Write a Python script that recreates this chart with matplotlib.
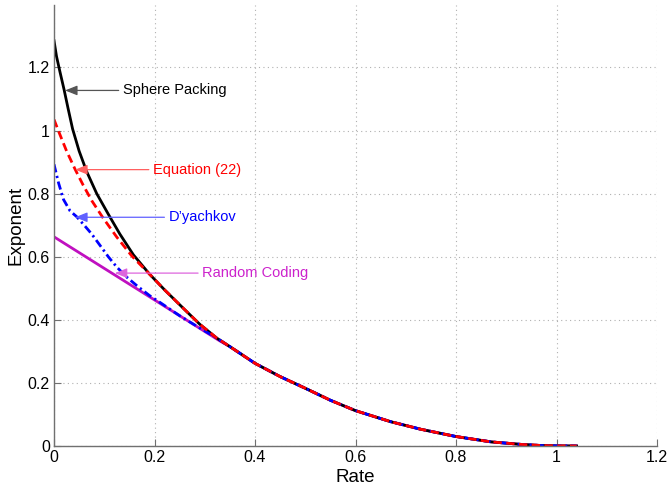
import matplotlib
matplotlib.use("Agg")
import matplotlib.pyplot as plt

plt.rcParams['font.family'] = ['Liberation Sans', 'DejaVu Sans']

# ── data ───────────────────────────────────────────────────────────────────────

# shared high-rate tail (all bounds coincide here)
TAIL_R = [0.35, 0.40, 0.45, 0.50, 0.55, 0.60, 0.67, 0.73, 0.80, 0.87, 0.93, 0.97, 1.00, 1.04]
TAIL_E = [0.315, 0.262, 0.220, 0.183, 0.145, 0.112, 0.077, 0.053, 0.030, 0.013, 0.005, 0.0015, 0.0003, 0.0]

# sphere packing (low-rate part)
SP_R = [0, 0.005, 0.012, 0.02, 0.028, 0.037, 0.05, 0.065, 0.085, 0.108, 0.131, 0.158,
        0.19, 0.22, 0.257, 0.29, 0.324]
SP_E = [1.285, 1.235, 1.185, 1.13, 1.07, 1.005, 0.935, 0.870, 0.80, 0.735, 0.672, 0.606,
        0.545, 0.495, 0.437, 0.386, 0.342]

# equation (22)
EQ_R = [0, 0.009, 0.025, 0.042, 0.058, 0.075, 0.098, 0.125, 0.155, 0.19, 0.22, 0.257, 0.29, 0.324]
EQ_E = [1.035, 0.998, 0.935, 0.877, 0.827, 0.778, 0.722, 0.662, 0.602, 0.545, 0.495, 0.437, 0.386, 0.342]

# D'yachkov
DY_R = [0, 0.009, 0.019, 0.032, 0.045, 0.06, 0.075, 0.092, 0.108, 0.125, 0.145, 0.165,
        0.19, 0.211, 0.25, 0.29, 0.324]
DY_E = [0.893, 0.834, 0.781, 0.745, 0.727, 0.700, 0.672, 0.635, 0.600, 0.567, 0.535, 0.508,
        0.477, 0.455, 0.413, 0.374, 0.342]

# random coding
RC_R = [0, 0.33]
RC_E = [0.663, 0.333]

# labels: (text, text position, arrow tip, text colour, arrow colour)
LABELS = [
    ("Sphere Packing", (0.137, 1.127), (0.022, 1.127), "black", "#555555"),
    ("Equation (22)",  (0.197, 0.876), (0.042, 0.876), "red", "#ff6060"),
    ("D\u2019yachkov", (0.228, 0.725), (0.042, 0.725), "blue", "#6060ff"),
    ("Random Coding",  (0.295, 0.548), (0.121, 0.548), "#cc22cc", "#dd66dd"),
]

MAGENTA = "#c010c0"

# ── plot ───────────────────────────────────────────────────────────────────────

fig = plt.figure(figsize=(6.7, 4.87), dpi=100)
ax = fig.add_axes([0.0806, 0.0842, 0.900, 0.905])

ax.plot(RC_R + TAIL_R, RC_E + TAIL_E, color=MAGENTA, lw=2, solid_joinstyle="round")
ax.plot(SP_R + TAIL_R, SP_E + TAIL_E, color="black", lw=2, solid_joinstyle="round")
ax.plot(DY_R + TAIL_R, DY_E + TAIL_E, color="blue", lw=2, dashes=(3, 1.3, 0.8, 1.3),
        dash_joinstyle="round")
ax.plot(EQ_R + TAIL_R, EQ_E + TAIL_E, color="red", lw=2, dashes=(3, 1.6),
        dash_joinstyle="round")

for text, xytext, tip, tcol, acol in LABELS:
    ax.annotate(text, xy=tip, xytext=xytext, ha="left", va="center",
                fontsize=10.5, color=tcol,
                arrowprops=dict(arrowstyle="-|>,head_length=0.7,head_width=0.28",
                                color=acol, lw=0.9, shrinkA=1, shrinkB=0))

ax.set_xlim(0, 1.2)
ax.set_ylim(0, 1.397)
ax.set_xticks([0, 0.2, 0.4, 0.6, 0.8, 1.0, 1.2])
ax.set_xticklabels(["0", "0.2", "0.4", "0.6", "0.8", "1", "1.2"])
ax.set_yticks([0, 0.2, 0.4, 0.6, 0.8, 1.0, 1.2])
ax.set_yticklabels(["0", "0.2", "0.4", "0.6", "0.8", "1", "1.2"])
ax.tick_params(direction="in", length=5, width=0.8, color="#707070",
               labelsize=11.5, pad=3)
ax.grid(True, color="#b0b0b0", linestyle=(0, (1, 3)), linewidth=0.8)
ax.set_axisbelow(True)

for side in ["top", "right"]:
    ax.spines[side].set_visible(False)
for side in ["left", "bottom"]:
    ax.spines[side].set_color("#707070")
    ax.spines[side].set_linewidth(1.0)

ax.set_xlabel("Rate", fontsize=13.5, labelpad=3)
ax.set_ylabel("Exponent", fontsize=13.5, labelpad=2)

fig.savefig("out.png", dpi=100, facecolor="white")
